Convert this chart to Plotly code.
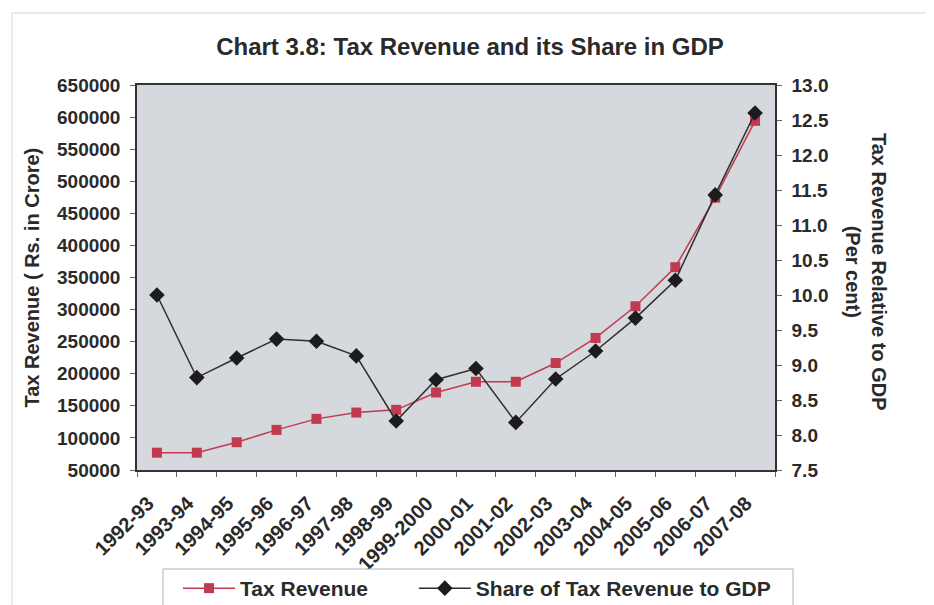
import plotly.graph_objects as go

years = ["1992-93", "1993-94", "1994-95", "1995-96", "1996-97", "1997-98", "1998-99",
         "1999-2000", "2000-01", "2001-02", "2002-03", "2003-04", "2004-05", "2005-06",
         "2006-07", "2007-08"]
tax_revenue = [77000, 77000, 93300, 112500, 129700, 139500, 143750, 170800, 187500,
               187500, 216700, 255800, 305200, 366100, 474500, 594200]
share_gdp = [10.0, 8.82, 9.10, 9.37, 9.34, 9.13, 8.20, 8.79, 8.95, 8.18, 8.80, 9.20,
             9.67, 10.21, 11.43, 12.60]
left_ticks = list(range(50000, 650001, 50000))
right_ticks = [7.5 + 0.5 * i for i in range(12)]

FONT = "Liberation Sans, Arial, sans-serif"
RED = "#c23a50"
BLK = "#1c1c1c"
TXT = "#2a2a2a"
NB = "\u00a0"

# page is offset 8px by body margin; plot area in screenshot: x 137..775, y 85..470
L, T, PW, PH = 129, 77, 638, 385
X0, Y0 = 137, 470  # screenshot coords of plot bottom-left


def px(x):
    return (x - X0) / PW


def py(y):
    return (Y0 - y) / PH


fig = go.Figure()
fig.add_trace(go.Scatter(
    x=years, y=tax_revenue, name="Tax Revenue" + NB * 7, mode="lines+markers",
    line=dict(color=RED, width=1.5),
    marker=dict(symbol="square", size=10, color=RED),
    yaxis="y"))
fig.add_trace(go.Scatter(
    x=years, y=share_gdp, name="Share of Tax Revenue to GDP", mode="lines+markers",
    line=dict(color="#2e2e2e", width=1.5),
    marker=dict(symbol="diamond", size=12, color=BLK),
    yaxis="y2"))

fig.update_layout(
    width=934, height=605,
    margin=dict(l=L, r=934 - L - PW, t=T, b=605 - T - PH, autoexpand=False),
    paper_bgcolor="white",
    plot_bgcolor="#d5d8dc",
    font=dict(family=FONT, color=TXT),
    title=dict(text="<b>Chart 3.8: Tax Revenue and its Share in GDP</b>",
               x=462 / 934, xanchor="center", y=1 - 39 / 605, yanchor="middle",
               font=dict(size=24, color=TXT)),
    xaxis=dict(
        type="category", range=[-0.5, 15.5],
        tickangle=-45, tickfont=dict(size=20, color=TXT, family=FONT, weight="bold"),
        ticks="outside", ticklen=5, tickcolor="#666", tickson="boundaries",
        ticklabelstandoff=12, ticklabelshift=-9,
        showline=True, linecolor="#333", linewidth=1.5, mirror=True,
        showgrid=False, automargin=False),
    yaxis=dict(
        range=[50000, 650000], tickvals=left_ticks, ticktext=[str(v) for v in left_ticks],
        tickfont=dict(size=19, color=TXT, weight="bold"),
        ticks="outside", ticklen=5, tickcolor="#666", ticklabelstandoff=6,
        showline=True, linecolor="#333", linewidth=1.5, mirror=True,
        showgrid=False, zeroline=False, automargin=False),
    yaxis2=dict(
        range=[7.5, 13.0], tickvals=right_ticks, ticktext=[f"{v:.1f}" for v in right_ticks],
        overlaying="y", side="right",
        tickfont=dict(size=19, color=TXT, weight="bold"),
        ticks="outside", ticklen=5, tickcolor="#666", ticklabelstandoff=6,
        showline=True, linecolor="#333", linewidth=1.5,
        showgrid=False, zeroline=False, automargin=False),
    legend=dict(
        orientation="h", x=px(178), xanchor="left",
        y=py(568), yanchor="top",
        bgcolor="rgba(0,0,0,0)", borderwidth=0,
        font=dict(size=21, color=TXT, weight="bold"),
        itemwidth=52),
    showlegend=True,
)

fig.add_annotation(text="<b>Tax Revenue ( Rs. in Crore)</b>", xref="paper", yref="paper",
                   x=px(31), y=0.5, textangle=-90, showarrow=False,
                   font=dict(size=20, color=TXT), xanchor="center", yanchor="middle")
fig.add_annotation(text="<b>Tax Revenue Relative to GDP<br>(Per cent)</b>", xref="paper", yref="paper",
                   x=px(866), y=py(272), textangle=90, showarrow=False,
                   font=dict(size=20, color=TXT), xanchor="center", yanchor="middle")

# outer chart frame
fig.add_shape(type="rect", xref="paper", yref="paper",
              x0=px(12), x1=px(930), y0=py(640), y1=py(13),
              line=dict(color="#ddd3d3", width=1), layer="below")
# legend frame
fig.add_shape(type="rect", xref="paper", yref="paper",
              x0=px(163), x1=px(793), y0=py(640), y1=py(569),
              line=dict(color="#b0b0b0", width=1), fillcolor="white", layer="above")

fig.write_html("out.html")
